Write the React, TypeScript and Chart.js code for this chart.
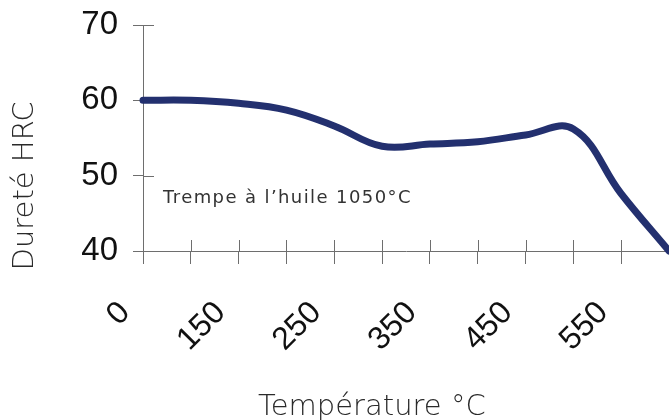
import React, { useEffect, useRef } from 'react';
import { Chart, registerables } from 'chart.js';

Chart.register(...registerables);

const temperatures = ['0', '100', '150', '200', '250', '300', '350', '400', '450', '500', '550', '600'];
const hardness = [60, 60, 59.6, 58.7, 56.6, 53.9, 54.2, 54.5, 55.4, 56.2, 47.6, 40];
const yMin = 40;
const yMax = 70;
const yStep = 10;
const yTitle = 'Dureté HRC';
const xTitle = 'Température °C';
const note = 'Trempe à l’huile 1050°C';
const noteValue = 46.4;

const AXIS_GREY = '#6e6e6e';

const decor = {
  id: 'decor',
  beforeDatasetsDraw(chart: any) {
    const { ctx, chartArea, scales } = chart;
    const { left, bottom } = chartArea;
    const x = scales.x;
    const y = scales.y;
    ctx.save();
    ctx.strokeStyle = AXIS_GREY;
    ctx.lineWidth = 1;
    ctx.beginPath();
    x.ticks.forEach((_: any, i: number) => {
      const px = Math.round(x.getPixelForTick(i)) + 0.5;
      ctx.moveTo(px, bottom);
      ctx.lineTo(px, bottom - 11);
    });
    y.ticks.forEach((_: any, i: number) => {
      const py = Math.round(y.getPixelForTick(i)) + 0.5;
      ctx.moveTo(left, py);
      ctx.lineTo(left + 11, py);
    });
    ctx.stroke();

    ctx.fillStyle = '#333333';
    ctx.font = '18px "DejaVu Sans"';
    (ctx as any).letterSpacing = '1.4px';
    ctx.textAlign = 'left';
    ctx.textBaseline = 'alphabetic';
    ctx.fillText(note, left + 20, y.getPixelForValue(noteValue));
    ctx.restore();
  },
  afterDraw(chart: any) {
    const { ctx, chartArea } = chart;
    const { left, right, top, bottom } = chartArea;
    ctx.save();
    ctx.fillStyle = '#2a2a2a';
    ctx.font = '200 29px "DejaVu Sans"';
    ctx.textAlign = 'center';
    ctx.textBaseline = 'alphabetic';
    ctx.fillText(xTitle, left + (right - left) * 0.435, chart.height - 5);
    ctx.translate(33, top + (bottom - top) * 0.712);
    ctx.rotate(-Math.PI / 2);
    ctx.fillText(yTitle, 0, 0);
    ctx.restore();
  },
};

export default function App() {
  const canvasRef = useRef<HTMLCanvasElement | null>(null);

  useEffect(() => {
    if (!canvasRef.current) return;
    const chart = new Chart(canvasRef.current, {
      type: 'line',
      data: {
        labels: temperatures,
        datasets: [
          {
            data: hardness,
            borderColor: '#23306f',
            borderWidth: 7,
            borderCapStyle: 'round',
            borderJoinStyle: 'round',
            pointRadius: 0,
            tension: 0.4,
            fill: false,
            clip: 6,
          },
        ],
      },
      options: {
        animation: false,
        responsive: true,
        maintainAspectRatio: false,
        layout: { padding: { top: 25, right: 0, left: 0, bottom: 0 } },
        plugins: { legend: { display: false }, tooltip: { enabled: false } },
        scales: {
          x: {
            type: 'category',
            offset: false,
            afterFit: (scale: any) => {
              scale.height = 169;
              scale.paddingLeft = 0;
              scale.paddingRight = 0;
            },
            grid: { display: true, drawOnChartArea: false, drawTicks: true, tickLength: 13, color: AXIS_GREY },
            border: { display: true, color: AXIS_GREY, width: 1 },
            ticks: {
              autoSkip: false,
              minRotation: 45,
              maxRotation: 45,
              padding: 30,
              labelOffset: -18,
              color: '#111111',
              font: { family: '"Liberation Sans", Arial, sans-serif', size: 32 },
              callback: (_v: any, i: number) => (i % 2 === 0 ? temperatures[i] : ''),
            },
          },
          y: {
            min: yMin,
            max: yMax,
            afterFit: (scale: any) => {
              scale.width = 143;
              scale.paddingTop = 0;
              scale.paddingBottom = 0;
            },
            grid: { display: true, drawOnChartArea: false, drawTicks: true, tickLength: 10, color: AXIS_GREY },
            border: { display: true, color: AXIS_GREY, width: 1 },
            ticks: {
              stepSize: yStep,
              padding: 15,
              color: '#111111',
              font: { family: '"Liberation Sans", Arial, sans-serif', size: 33 },
            },
          },
        },
      },
      plugins: [decor],
    });
    return () => chart.destroy();
  }, []);

  return (
    <div style={{ position: 'fixed', left: 0, top: 0, width: 669, height: 420, background: '#fff' }}>
      <canvas ref={canvasRef} />
    </div>
  );
}
